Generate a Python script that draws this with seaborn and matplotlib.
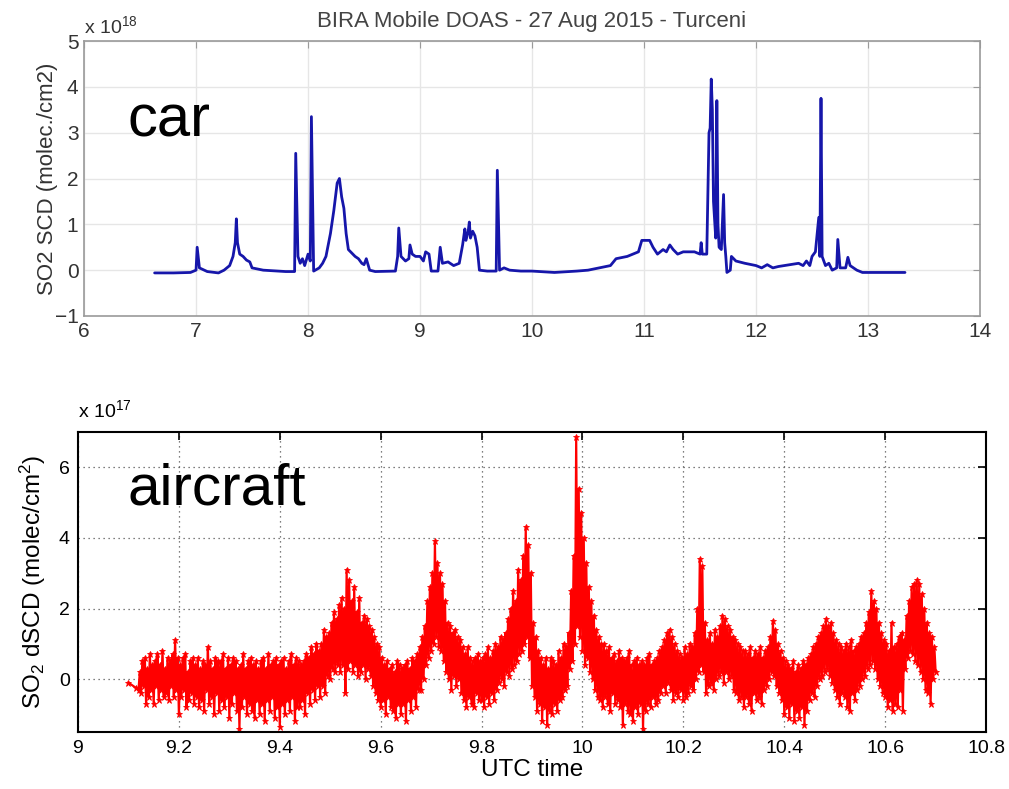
import numpy as np
import pandas as pd
import matplotlib
matplotlib.use("Agg")
import matplotlib.pyplot as plt
import seaborn as sns

# --- Car-based mobile DOAS: SO2 slant column (units of 1e18 molec/cm2) ---
car_time = [
    6.63, 6.80, 6.95, 7.00, 7.01, 7.03, 7.10, 7.20, 7.25, 7.30, 7.33, 7.35, 7.36, 7.37,
    7.39, 7.42, 7.45, 7.48, 7.50, 7.60, 7.80, 7.88, 7.89, 7.91, 7.93, 7.95, 7.97, 8.00,
    8.02, 8.03, 8.05, 8.10, 8.13, 8.16, 8.20, 8.23, 8.26, 8.28, 8.30, 8.32, 8.34, 8.36,
    8.38, 8.40, 8.42, 8.45, 8.48, 8.50, 8.52, 8.55, 8.60, 8.78, 8.80, 8.81, 8.83, 8.87,
    8.90, 8.91, 8.93, 8.96, 9.00, 9.03, 9.05, 9.08, 9.10, 9.16, 9.18, 9.20, 9.25, 9.30,
    9.35, 9.38, 9.40, 9.41, 9.43, 9.44, 9.45, 9.47, 9.49, 9.51, 9.53, 9.60, 9.68, 9.69,
    9.71, 9.75, 9.80, 9.90, 10.00, 10.20, 10.40, 10.50, 10.60, 10.70, 10.75, 10.85, 10.95,
    10.98, 11.05, 11.08, 11.12, 11.17, 11.20, 11.23, 11.26, 11.30, 11.35, 11.45, 11.50,
    11.51, 11.52, 11.56, 11.58, 11.59, 11.60, 11.61, 11.62, 11.64, 11.65, 11.66, 11.67,
    11.69, 11.71, 11.72, 11.73, 11.74, 11.77, 11.78, 11.82, 11.90, 12.00, 12.05, 12.10,
    12.15, 12.20, 12.30, 12.38, 12.42, 12.45, 12.48, 12.50, 12.53, 12.56, 12.57, 12.58,
    12.59, 12.62, 12.65, 12.68, 12.72, 12.73, 12.75, 12.80, 12.82, 12.84, 12.90, 12.95,
    13.10, 13.33,
]
car_so2 = [
    -0.06, -0.06, -0.05, 0.00, 0.50, 0.05, -0.03, -0.06, 0.00, 0.10, 0.30, 0.60, 1.12, 0.60,
    0.35, 0.30, 0.22, 0.18, 0.05, 0.00, -0.03, -0.03, 2.55, 0.30, 0.15, 0.25, 0.10, 0.35,
    0.20, 3.35, -0.02, 0.05, 0.15, 0.30, 0.80, 1.30, 1.90, 2.00, 1.60, 1.35, 0.80, 0.45,
    0.40, 0.35, 0.30, 0.25, 0.15, 0.12, 0.25, 0.00, -0.03, -0.02, 0.30, 0.92, 0.30, 0.20,
    0.25, 0.55, 0.35, 0.30, 0.30, 0.20, 0.40, 0.35, -0.02, -0.02, 0.50, 0.15, 0.18, 0.10,
    0.15, 0.55, 0.90, 0.65, 0.85, 1.05, 0.70, 0.85, 0.75, 0.50, 0.00, -0.02, -0.02, 2.18,
    0.00, 0.05, 0.00, -0.02, -0.02, -0.05, -0.02, 0.00, 0.05, 0.10, 0.25, 0.30, 0.40,
    0.65, 0.65, 0.50, 0.35, 0.45, 0.40, 0.55, 0.45, 0.35, 0.40, 0.40, 0.35,
    0.60, 0.35, 0.35, 3.00, 3.10, 4.17, 3.50, 1.50, 0.70, 3.70, 1.00, 0.50,
    0.45, 1.65, 0.60, 0.30, -0.05, 0.00, 0.30, 0.20, 0.15, 0.10, 0.05, 0.12,
    0.05, 0.08, 0.12, 0.15, 0.10, 0.20, 0.10, 0.30, 0.40, 1.15, 0.30, 3.75,
    0.30, 0.10, 0.15, 0.00, 0.05, 0.67, 0.05, 0.05, 0.28, 0.10, 0.00, -0.05,
    -0.05, -0.05,
]

# --- Airborne DOAS: SO2 differential slant column (units of 1e17 molec/cm2) ---
air_lead_time = [9.100, 9.115]
air_lead_so2 = [-0.10, -0.25]
air_start = 9.12      # first sample of the regular record
air_step = 0.0025     # sampling interval in hours (16 samples per row below)
air_so2 = [
    -0.3, 0.2, -0.4, 0.5, -0.2, 0.6, -0.7, 0.3, -0.5, 0.7, -0.3, 0.4, -0.7, 0.5, -0.2, 0.7,
    -0.6, 0.4, -0.3, 0.8, -0.5, 0.3, -0.4, 0.6, -0.6, 0.5, -0.2, 0.7, -0.5, 1.1, -0.3, 0.6,
    -1.0, 0.4, -0.5, 0.6, -0.3, 0.7, -0.8, 0.2, -0.6, 0.5, -0.4, 0.6, -0.7, 0.4, -0.5, 0.6,
    -0.8, 0.3, -0.6, 0.5, -0.9, 0.4, -0.3, 0.9, -0.7, 0.5, -0.5, 0.3, -1.0, 0.6, -0.4, 0.5,
    -0.9, 0.5, -0.6, 0.7, -0.8, 0.3, -0.5, 0.6, -1.1, 0.4, -0.7, 0.6, -0.4, 0.5, -0.9, 0.3,
    -1.4, 0.4, -0.8, 0.7, -0.5, 0.3, -1.0, 0.5, -0.7, 0.6, -0.9, 0.4, -1.1, 0.5, -0.6, 0.3,
    -1.0, 0.5, -0.7, 0.6, -1.2, 0.3, -0.6, 0.7, -0.9, 0.4, -0.5, 0.5, -1.1, 0.6, -0.8, 0.4,
    -1.35, 0.5, -0.7, 0.6, -1.0, 0.3, -0.6, 0.5, -0.9, 0.7, -0.5, 0.4, -1.2, 0.6, -0.8, 0.5,
    -0.8, 0.4, -0.6, 0.5, -1.0, 0.7, -0.4, 0.6, -0.7, 0.9, -0.3, 0.7, -0.6, 1.0, -0.2, 0.8,
    -0.5, 1.0, -0.2, 1.4, -0.4, 1.2, 0.1, 1.3, 0.0, 1.6, 0.3, 1.9, 0.2, 1.7, 0.4, 2.1,
    0.2, 2.3, 0.4, 2.0, -0.4, 3.1, 0.3, 2.8, 0.5, 2.2, 0.2, 2.6, 0.4, 1.9, 0.1, 2.3,
    0.2, 1.6, 0.4, 1.8, 0.0, 1.7, 0.3, 1.5, 0.1, 1.4, -0.2, 1.2, -0.4, 1.0, -0.6, 0.9,
    -0.8, 0.6, -0.6, 0.4, -1.0, 0.5, -0.5, 0.3, -0.8, 0.4, -0.9, 0.2, -1.1, 0.5, -0.7, 0.4,
    -1.0, 0.3, -0.7, 0.4, -1.2, 0.5, -0.6, 0.3, -0.9, 0.6, -0.5, 0.5, -0.8, 0.7, -0.3, 0.9,
    -0.3, 1.2, 0.0, 1.5, 0.4, 2.2, 0.6, 2.6, 0.8, 3.0, 1.0, 3.9, 1.2, 3.3, 0.9, 3.0,
    0.8, 2.7, 0.5, 2.2, 0.2, 1.6, 0.0, 1.5, -0.3, 1.3, 0.1, 1.4, -0.2, 1.2, 0.0, 1.1,
    -0.4, 0.9, -0.6, 0.7, -0.8, 0.9, -0.5, 0.6, -0.7, 0.5, -0.8, 0.6, -0.4, 0.7, -0.6, 0.5,
    -0.6, 0.6, -0.8, 0.7, -0.5, 0.9, -0.7, 0.6, -0.4, 0.8, -0.6, 1.0, -0.3, 0.9, -0.1, 1.2,
    0.0, 1.1, -0.2, 1.3, 0.2, 1.7, 0.1, 2.0, 0.3, 2.5, 0.4, 2.2, 0.5, 3.1, 0.7, 2.8,
    0.8, 3.5, 1.0, 4.3, 1.2, 3.8, 0.6, 3.0, -0.2, 1.6, -0.5, 1.2, -0.9, 0.8, -0.7, 0.6,
    -1.2, 0.4, -0.8, 0.6, -1.3, 0.3, -0.9, 0.6, -1.0, 0.5, -0.7, 0.4, -0.9, 0.8, -0.6, 0.6,
    -0.5, 1.0, -0.3, 0.9, -0.2, 1.3, 0.3, 2.5, 0.5, 3.5, 1.0, 6.85, 1.5, 5.4, 1.2, 4.7,
    0.8, 4.0, 0.4, 3.3, 0.6, 2.6, 0.2, 2.2, 0.0, 1.8, -0.3, 1.4, -0.5, 1.2, -0.6, 1.0,
    -0.8, 1.0, -0.5, 0.8, -0.7, 0.9, -0.9, 0.6, -0.4, 0.7, -0.7, 0.5, -0.6, 0.8, -0.8, 0.6,
    -1.3, 0.5, -0.7, 0.6, -0.9, 0.8, -1.0, 0.4, -1.2, 0.5, -0.8, 0.6, -1.0, 0.4, -0.7, 0.5,
    -1.4, 0.4, -0.9, 0.6, -0.7, 0.7, -0.8, 0.4, -0.5, 0.5, -0.7, 0.6, -0.6, 0.8, -0.4, 0.9,
    -0.2, 1.1, -0.4, 1.3, -0.1, 1.4, -0.3, 1.2, -0.6, 1.0, -0.4, 0.8, -0.5, 0.7, -0.3, 0.6,
    -0.6, 0.9, -0.5, 0.7, -0.4, 1.0, -0.2, 0.9, -0.3, 1.3, 0.0, 2.0, 0.2, 3.4, 0.4, 3.2,
    0.2, 1.6, -0.4, 1.1, -0.2, 1.3, -0.1, 1.0, -0.3, 1.4, 0.0, 1.2, 0.1, 1.5, 0.2, 1.8,
    -0.1, 1.7, 0.2, 1.5, 0.0, 1.4, 0.1, 1.2, -0.3, 1.1, -0.4, 1.0, -0.6, 0.9, -0.5, 0.8,
    -0.8, 0.8, -0.5, 0.7, -0.7, 0.9, -0.9, 0.6, -0.4, 0.8, -0.6, 0.7, -0.5, 0.9, -0.7, 0.6,
    -0.3, 0.8, -0.2, 0.9, 0.0, 1.2, 0.2, 1.65, 0.1, 1.4, -0.2, 1.0, -0.4, 0.8, -0.6, 0.6,
    -1.0, 0.5, -0.8, 0.4, -1.1, 0.3, -0.7, 0.5, -1.2, 0.2, -0.9, 0.4, -1.1, 0.3, -0.8, 0.5,
    -1.3, 0.4, -0.9, 0.6, -0.6, 0.7, -0.4, 0.9, -0.5, 1.0, -0.2, 1.2, 0.0, 1.3, 0.1, 1.5,
    0.2, 1.7, 0.3, 1.5, 0.1, 1.6, -0.1, 1.3, -0.3, 1.1, -0.5, 1.0, -0.7, 0.9, -0.4, 0.8,
    -0.5, 1.0, -0.8, 0.9, -0.9, 1.1, -0.4, 0.8, -0.6, 0.9, -0.3, 1.0, -0.2, 1.2, 0.0, 1.3,
    0.1, 1.6, 0.3, 1.9, 0.4, 2.5, 0.5, 2.2, 0.3, 2.0, 0.0, 1.6, -0.2, 1.3, -0.4, 1.1,
    -0.5, 1.0, -0.8, 0.8, -0.6, 1.6, -0.9, 0.9, -0.7, 1.0, -0.8, 1.2, -0.3, 1.3, -0.9, 1.1,
    0.3, 1.8, 0.6, 2.2, 0.8, 2.6, 0.7, 2.7, 0.5, 2.8, 0.4, 2.7, 0.2, 2.4, 0.0, 2.0,
    -0.3, 1.6, -0.4, 1.3, -0.7, 1.2, 0.0, 0.9, 0.2,
]

car_xticks = [6, 7, 8, 9, 10, 11, 12, 13, 14]
car_yticks = [-1, 0, 1, 2, 3, 4, 5]
air_xticks = [9, 9.2, 9.4, 9.6, 9.8, 10, 10.2, 10.4, 10.6, 10.8]
air_xticklabels = ["9", "9.2", "9.4", "9.6", "9.8", "10", "10.2", "10.4", "10.6", "10.8"]
air_yticks = [0, 2, 4, 6]

sns.set_theme(style="white")
plt.rcParams["font.family"] = ["Liberation Sans", "DejaVu Sans"]
plt.rcParams["mathtext.fontset"] = "custom"
plt.rcParams["mathtext.rm"] = "Liberation Sans"
plt.rcParams["mathtext.it"] = "Liberation Sans"

fig = plt.figure(figsize=(10.09, 7.89), dpi=100)

# ---------------- car panel ----------------
ax1 = fig.add_axes([0.0833, 0.5995, 0.888, 0.3485])
car_df = pd.DataFrame({"time": car_time, "so2": car_so2})
sns.lineplot(data=car_df, x="time", y="so2", ax=ax1, color="#1616aa",
             linewidth=2.0, estimator=None, sort=False)
ax1.set_xlim(6, 14)
ax1.set_ylim(-1, 5)
ax1.set_xticks(car_xticks)
ax1.set_yticks(car_yticks)
ax1.grid(True, color="#e6e6e6", linewidth=1.0)
for s in ax1.spines.values():
    s.set_color("#9a9a9a")
    s.set_linewidth(1.2)
ax1.tick_params(direction="in", length=5, width=0.8, color="#9a9a9a",
                top=True, right=True, labelsize=15, labelcolor="#333333", pad=4)
ax1.set_xlabel("")
ax1.set_ylabel("SO2 SCD (molec./cm2)", fontsize=16, color="#333333")
ax1.yaxis.set_label_coords(-0.029, 0.5)
ax1.set_title("BIRA Mobile DOAS - 27 Aug 2015 - Turceni", fontsize=16,
              color="#444444", pad=10)
ax1.text(0.0, 1.015, "x 10$^{18}$", transform=ax1.transAxes, fontsize=14,
         color="#333333", ha="left", va="bottom")
ax1.text(0.048, 0.651, "car", transform=ax1.transAxes, fontsize=43,
         color="black", ha="left", va="baseline")

# ---------------- aircraft panel ----------------
ax2 = fig.add_axes([0.0773, 0.0722, 0.900, 0.3802])
air_time = list(air_lead_time) + list(air_start + air_step * np.arange(len(air_so2)))
air_df = pd.DataFrame({"time": air_time, "so2": list(air_lead_so2) + list(air_so2)})
sns.lineplot(data=air_df, x="time", y="so2", ax=ax2, color="#ff0000",
             linewidth=1.6, marker="*", markersize=4.5, markeredgewidth=0.6,
             markeredgecolor="#ff0000", estimator=None, sort=False)
ax2.set_xlim(9, 10.8)
ax2.set_ylim(-1.5, 7)
ax2.set_xticks(air_xticks)
ax2.set_xticklabels(air_xticklabels)
ax2.set_yticks(air_yticks)
ax2.grid(True, color="#555555", linestyle=(0, (1, 3)), linewidth=0.9)
for s in ax2.spines.values():
    s.set_color("black")
    s.set_linewidth(1.5)
ax2.tick_params(direction="in", length=6, width=1.2, color="black",
                top=True, right=True, labelsize=14, labelcolor="black", pad=6)
ax2.set_xlabel("UTC time", fontsize=17.5, color="black", labelpad=1)
ax2.set_ylabel("SO$_2$ dSCD (molec/cm$^2$)", fontsize=17.5, color="black")
ax2.yaxis.set_label_coords(-0.033, 0.5)
ax2.text(0.0, 1.035, "x 10$^{17}$", transform=ax2.transAxes, fontsize=14,
         color="black", ha="left", va="bottom")
ax2.text(0.054, 0.76, "aircraft", transform=ax2.transAxes, fontsize=42,
         color="black", ha="left", va="baseline")

fig.savefig("out.png", dpi=100)
